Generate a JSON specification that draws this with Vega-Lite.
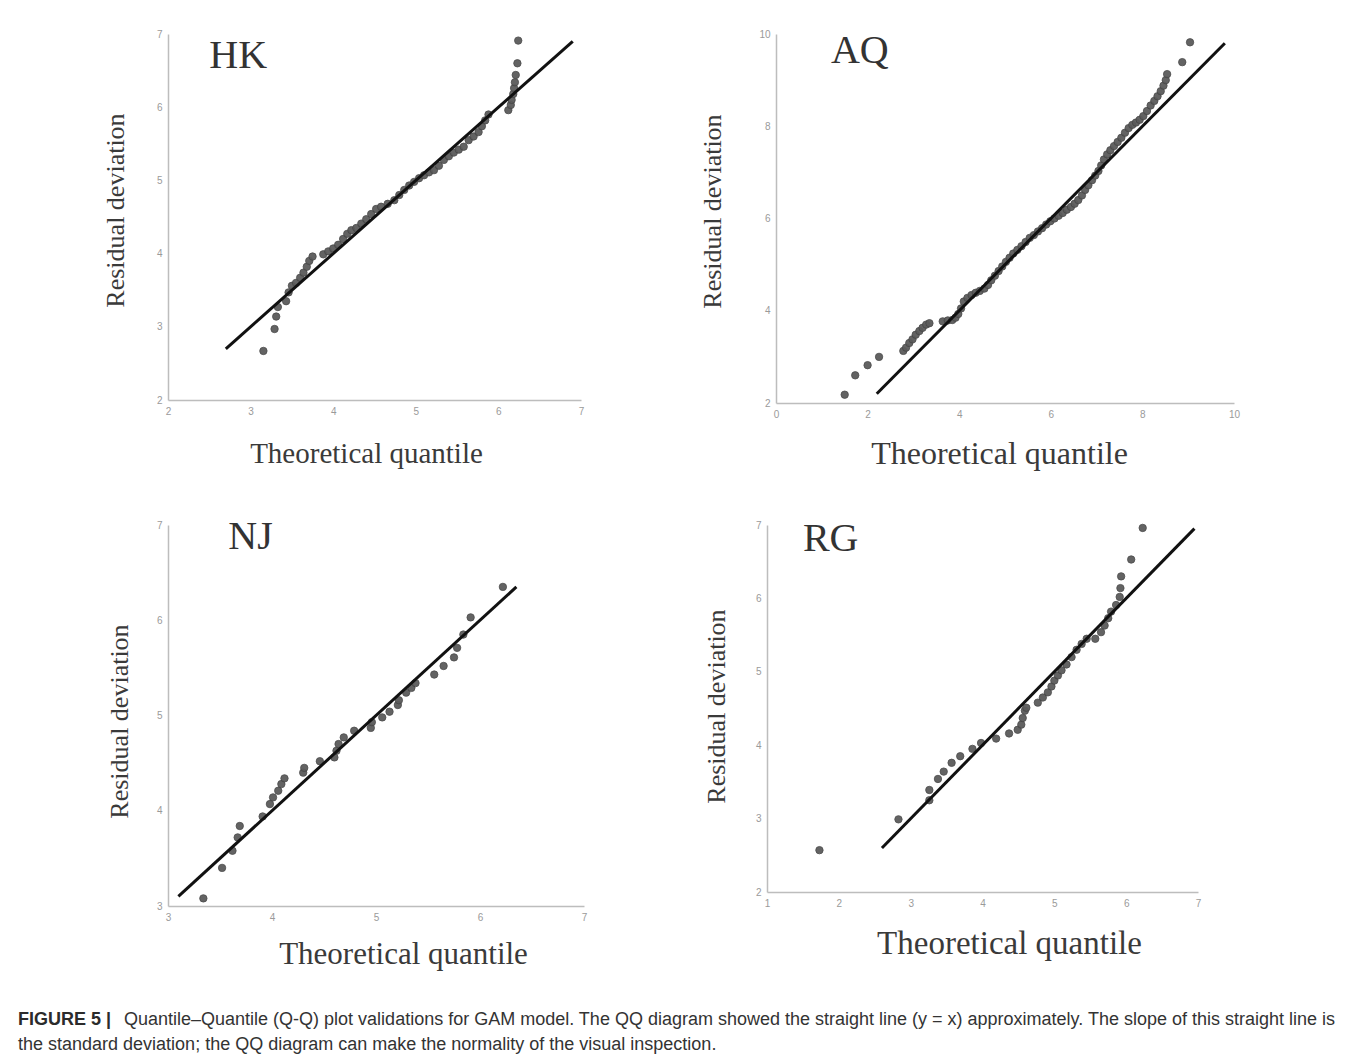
{
  "$schema": "https://vega.github.io/schema/vega-lite/v6.json",
  "background": "white",
  "padding": {"left": 18, "top": 29, "right": 8, "bottom": 8},
  "config": {
    "view": {"stroke": null},
    "axis": {
      "domainColor": "#bdbdbd",
      "domainWidth": 1.5,
      "ticks": false,
      "tickSize": 0,
      "grid": false,
      "labelColor": "#9a9a9a",
      "labelFont": "Liberation Sans",
      "labelFontSize": 10,
      "labelPadding": 6,
      "labelOverlap": false,
      "labelFlush": false,
      "format": "d",
      "titleFont": "Liberation Serif",
      "titleFontWeight": "normal",
      "titleColor": "#3a3a3a"
    },
    "axisY": {"titleFontSize": 26}
  },
  "datasets": {
    "hk": [
      {"x":3.155,"y":2.67},{"x":3.29,"y":2.97},{"x":3.31,"y":3.14},{"x":3.33,"y":3.27},{"x":3.43,"y":3.35},
      {"x":3.46,"y":3.47},{"x":3.5,"y":3.56},{"x":3.55,"y":3.6},{"x":3.6,"y":3.67},{"x":3.64,"y":3.74},
      {"x":3.68,"y":3.82},{"x":3.71,"y":3.9},{"x":3.75,"y":3.96},{"x":3.88,"y":3.99},{"x":3.94,"y":4.03},
      {"x":4.0,"y":4.07},{"x":4.06,"y":4.12},{"x":4.12,"y":4.2},{"x":4.17,"y":4.27},{"x":4.22,"y":4.32},
      {"x":4.28,"y":4.35},{"x":4.34,"y":4.41},{"x":4.4,"y":4.47},{"x":4.46,"y":4.54},{"x":4.52,"y":4.61},
      {"x":4.58,"y":4.64},{"x":4.66,"y":4.68},{"x":4.74,"y":4.73},{"x":4.8,"y":4.8},{"x":4.86,"y":4.87},
      {"x":4.92,"y":4.93},{"x":4.98,"y":4.98},{"x":5.04,"y":5.03},{"x":5.1,"y":5.07},{"x":5.16,"y":5.11},
      {"x":5.22,"y":5.14},{"x":5.28,"y":5.2},{"x":5.34,"y":5.28},{"x":5.4,"y":5.33},{"x":5.46,"y":5.38},
      {"x":5.52,"y":5.42},{"x":5.58,"y":5.46},{"x":5.64,"y":5.55},{"x":5.7,"y":5.6},{"x":5.76,"y":5.66},
      {"x":5.8,"y":5.74},{"x":5.84,"y":5.82},{"x":5.88,"y":5.9},{"x":6.12,"y":5.96},{"x":6.15,"y":6.03},
      {"x":6.16,"y":6.1},{"x":6.18,"y":6.18},{"x":6.19,"y":6.26},{"x":6.2,"y":6.34},{"x":6.21,"y":6.44},
      {"x":6.23,"y":6.6},{"x":6.24,"y":6.91}
    ],
    "aq": [
      {"x":1.5,"y":2.18},{"x":1.73,"y":2.6},{"x":2.0,"y":2.82},{"x":2.25,"y":3.0},{"x":2.78,"y":3.13},
      {"x":2.84,"y":3.2},{"x":2.91,"y":3.3},{"x":2.98,"y":3.38},{"x":3.05,"y":3.48},{"x":3.13,"y":3.56},
      {"x":3.2,"y":3.63},{"x":3.28,"y":3.7},{"x":3.35,"y":3.73},{"x":3.64,"y":3.77},{"x":3.75,"y":3.79},
      {"x":3.85,"y":3.8},{"x":3.92,"y":3.85},{"x":3.98,"y":3.93},{"x":4.04,"y":4.05},{"x":4.1,"y":4.2},
      {"x":4.18,"y":4.28},{"x":4.27,"y":4.34},{"x":4.36,"y":4.39},{"x":4.45,"y":4.43},{"x":4.55,"y":4.48},
      {"x":4.63,"y":4.56},{"x":4.7,"y":4.66},{"x":4.78,"y":4.76},{"x":4.86,"y":4.86},{"x":4.94,"y":4.96},
      {"x":5.02,"y":5.06},{"x":5.1,"y":5.15},{"x":5.18,"y":5.24},{"x":5.27,"y":5.32},{"x":5.36,"y":5.4},
      {"x":5.45,"y":5.49},{"x":5.54,"y":5.58},{"x":5.63,"y":5.64},{"x":5.72,"y":5.72},{"x":5.81,"y":5.79},
      {"x":5.9,"y":5.87},{"x":5.99,"y":5.94},{"x":6.08,"y":6.0},{"x":6.17,"y":6.06},{"x":6.26,"y":6.12},
      {"x":6.35,"y":6.19},{"x":6.44,"y":6.25},{"x":6.52,"y":6.32},{"x":6.6,"y":6.4},{"x":6.68,"y":6.5},
      {"x":6.75,"y":6.62},{"x":6.82,"y":6.72},{"x":6.9,"y":6.83},{"x":6.97,"y":6.93},{"x":7.04,"y":7.03},
      {"x":7.1,"y":7.15},{"x":7.16,"y":7.28},{"x":7.23,"y":7.39},{"x":7.3,"y":7.48},{"x":7.38,"y":7.57},
      {"x":7.46,"y":7.66},{"x":7.54,"y":7.75},{"x":7.62,"y":7.86},{"x":7.7,"y":7.96},{"x":7.78,"y":8.03},
      {"x":7.86,"y":8.08},{"x":7.94,"y":8.14},{"x":8.02,"y":8.22},{"x":8.1,"y":8.33},{"x":8.18,"y":8.45},
      {"x":8.26,"y":8.55},{"x":8.33,"y":8.65},{"x":8.4,"y":8.76},{"x":8.46,"y":8.88},{"x":8.51,"y":9.0},
      {"x":8.54,"y":9.13},{"x":8.87,"y":9.39},{"x":9.04,"y":9.82}
    ],
    "nj": [
      {"x":3.34,"y":3.08},{"x":3.52,"y":3.4},{"x":3.62,"y":3.58},{"x":3.67,"y":3.72},{"x":3.69,"y":3.84},
      {"x":3.91,"y":3.94},{"x":3.98,"y":4.07},{"x":4.01,"y":4.14},{"x":4.06,"y":4.21},{"x":4.09,"y":4.28},
      {"x":4.12,"y":4.34},{"x":4.3,"y":4.4},{"x":4.31,"y":4.45},{"x":4.46,"y":4.52},{"x":4.6,"y":4.56},
      {"x":4.62,"y":4.63},{"x":4.64,"y":4.7},{"x":4.69,"y":4.77},{"x":4.79,"y":4.84},{"x":4.95,"y":4.87},
      {"x":4.96,"y":4.93},{"x":5.06,"y":4.98},{"x":5.13,"y":5.04},{"x":5.21,"y":5.11},{"x":5.22,"y":5.16},
      {"x":5.29,"y":5.24},{"x":5.34,"y":5.29},{"x":5.38,"y":5.34},{"x":5.56,"y":5.43},{"x":5.65,"y":5.52},
      {"x":5.75,"y":5.61},{"x":5.78,"y":5.71},{"x":5.84,"y":5.85},{"x":5.91,"y":6.03},{"x":6.22,"y":6.35}
    ],
    "rg": [
      {"x":1.73,"y":2.57},{"x":2.83,"y":2.99},{"x":3.26,"y":3.25},{"x":3.26,"y":3.39},{"x":3.38,"y":3.54},
      {"x":3.46,"y":3.64},{"x":3.57,"y":3.76},{"x":3.69,"y":3.85},{"x":3.86,"y":3.95},{"x":3.98,"y":4.03},
      {"x":4.19,"y":4.09},{"x":4.37,"y":4.16},{"x":4.49,"y":4.21},{"x":4.54,"y":4.28},{"x":4.56,"y":4.37},
      {"x":4.59,"y":4.47},{"x":4.61,"y":4.51},{"x":4.77,"y":4.58},{"x":4.84,"y":4.65},{"x":4.91,"y":4.72},
      {"x":4.96,"y":4.8},{"x":5.0,"y":4.88},{"x":5.05,"y":4.95},{"x":5.1,"y":5.02},{"x":5.17,"y":5.1},
      {"x":5.24,"y":5.2},{"x":5.31,"y":5.3},{"x":5.38,"y":5.38},{"x":5.45,"y":5.45},{"x":5.57,"y":5.45},
      {"x":5.65,"y":5.54},{"x":5.7,"y":5.63},{"x":5.75,"y":5.73},{"x":5.79,"y":5.82},{"x":5.86,"y":5.91},
      {"x":5.91,"y":6.02},{"x":5.92,"y":6.14},{"x":5.93,"y":6.3},{"x":6.07,"y":6.53},{"x":6.23,"y":6.96}
    ],
    "caption": [
      {"part":"label","line":1,"text":"FIGURE 5 |"},
      {"part":"body","line":1,"text":"Quantile–Quantile (Q-Q) plot validations for GAM model. The QQ diagram showed the straight line (y = x) approximately. The slope of this straight line is"},
      {"part":"body","line":2,"text":"the standard deviation; the QQ diagram can make the normality of the visual inspection."}
    ]
  },
  "vconcat": [
    {
      "vconcat": [
        {
          "hconcat": [
            {
              "width": 413, "height": 366,
              "layer": [
                {
                  "data": {"name": "hk"},
                  "mark": {"type": "circle", "fill": "#5b5b5b", "stroke": "#444444", "strokeWidth": 0.8, "size": 55, "opacity": 0.95},
                  "encoding": {
                    "x": {"field": "x", "type": "quantitative", "scale": {"domain": [2, 7], "nice": false, "zero": false},
                          "axis": {"title": "Theoretical quantile", "values": [2,3,4,5,6,7], "titleFontSize": 29, "titlePadding": 23, "titleX": 198}},
                    "y": {"field": "y", "type": "quantitative", "scale": {"domain": [2, 7], "nice": false, "zero": false},
                          "axis": {"title": "Residual deviation", "values": [2,3,4,5,6,7], "titlePadding": 28, "titleY": 176}}
                  }
                },
                {
                  "data": {"values": [{"x": 2.7, "y": 2.7}, {"x": 6.9, "y": 6.9}]},
                  "mark": {"type": "line", "color": "#111111", "strokeWidth": 3},
                  "encoding": {"x": {"field": "x", "type": "quantitative"}, "y": {"field": "y", "type": "quantitative"}}
                },
                {
                  "data": {"values": [{"label": "HK", "x": 2.5, "y": 6.54}]},
                  "mark": {"type": "text", "font": "Liberation Serif", "fontSize": 40, "align": "left", "baseline": "alphabetic", "color": "#333333"},
                  "encoding": {"x": {"field": "x", "type": "quantitative"}, "y": {"field": "y", "type": "quantitative"}, "text": {"field": "label"}}
                }
              ]
            },
            {
              "width": 458, "height": 369,
              "layer": [
                {
                  "data": {"name": "aq"},
                  "mark": {"type": "circle", "fill": "#5b5b5b", "stroke": "#444444", "strokeWidth": 0.8, "size": 55, "opacity": 0.95},
                  "encoding": {
                    "x": {"field": "x", "type": "quantitative", "scale": {"domain": [0, 10], "nice": false, "zero": false},
                          "axis": {"title": "Theoretical quantile", "values": [0,2,4,6,8,10], "titleFontSize": 32, "titlePadding": 19, "titleX": 223}},
                    "y": {"field": "y", "type": "quantitative", "scale": {"domain": [2, 10], "nice": false, "zero": false},
                          "axis": {"title": "Residual deviation", "values": [2,4,6,8,10], "titlePadding": 33, "titleY": 177}}
                  }
                },
                {
                  "data": {"values": [{"x": 2.2, "y": 2.2}, {"x": 9.8, "y": 9.8}]},
                  "mark": {"type": "line", "color": "#111111", "strokeWidth": 3},
                  "encoding": {"x": {"field": "x", "type": "quantitative"}, "y": {"field": "y", "type": "quantitative"}}
                },
                {
                  "data": {"values": [{"label": "AQ", "x": 1.2, "y": 9.37}]},
                  "mark": {"type": "text", "font": "Liberation Serif", "fontSize": 40, "align": "left", "baseline": "alphabetic", "color": "#333333"},
                  "encoding": {"x": {"field": "x", "type": "quantitative"}, "y": {"field": "y", "type": "quantitative"}, "text": {"field": "label"}}
                }
              ]
            }
          ],
          "spacing": 115
        },
        {
          "hconcat": [
            {
              "width": 416, "height": 381,
              "layer": [
                {
                  "data": {"name": "nj"},
                  "mark": {"type": "circle", "fill": "#5b5b5b", "stroke": "#444444", "strokeWidth": 0.8, "size": 55, "opacity": 0.95},
                  "encoding": {
                    "x": {"field": "x", "type": "quantitative", "scale": {"domain": [3, 7], "nice": false, "zero": false},
                          "axis": {"title": "Theoretical quantile", "values": [3,4,5,6,7], "titleFontSize": 31, "titlePadding": 17, "titleX": 235}},
                    "y": {"field": "y", "type": "quantitative", "scale": {"domain": [3, 7], "nice": false, "zero": false},
                          "axis": {"title": "Residual deviation", "values": [3,4,5,6,7], "titlePadding": 24, "titleY": 196}}
                  }
                },
                {
                  "data": {"values": [{"x": 3.1, "y": 3.1}, {"x": 6.35, "y": 6.35}]},
                  "mark": {"type": "line", "color": "#111111", "strokeWidth": 3},
                  "encoding": {"x": {"field": "x", "type": "quantitative"}, "y": {"field": "y", "type": "quantitative"}}
                },
                {
                  "data": {"values": [{"label": "NJ", "x": 3.58, "y": 6.75}]},
                  "mark": {"type": "text", "font": "Liberation Serif", "fontSize": 40, "align": "left", "baseline": "alphabetic", "color": "#333333"},
                  "encoding": {"x": {"field": "x", "type": "quantitative"}, "y": {"field": "y", "type": "quantitative"}, "text": {"field": "label"}}
                }
              ]
            },
            {
              "width": 431, "height": 367,
              "layer": [
                {
                  "data": {"name": "rg"},
                  "mark": {"type": "circle", "fill": "#5b5b5b", "stroke": "#444444", "strokeWidth": 0.8, "size": 55, "opacity": 0.95},
                  "encoding": {
                    "x": {"field": "x", "type": "quantitative", "scale": {"domain": [1, 7], "nice": false, "zero": false},
                          "axis": {"title": "Theoretical quantile", "values": [1,2,3,4,5,6,7], "titleFontSize": 33, "titlePadding": 19, "titleX": 242}},
                    "y": {"field": "y", "type": "quantitative", "scale": {"domain": [2, 7], "nice": false, "zero": false},
                          "axis": {"title": "Residual deviation", "values": [2,3,4,5,6,7], "titlePadding": 26, "titleY": 181}}
                  }
                },
                {
                  "data": {"values": [{"x": 2.6, "y": 2.6}, {"x": 6.95, "y": 6.95}]},
                  "mark": {"type": "line", "color": "#111111", "strokeWidth": 3},
                  "encoding": {"x": {"field": "x", "type": "quantitative"}, "y": {"field": "y", "type": "quantitative"}}
                },
                {
                  "data": {"values": [{"label": "RG", "x": 1.5, "y": 6.64}]},
                  "mark": {"type": "text", "font": "Liberation Serif", "fontSize": 40, "align": "left", "baseline": "alphabetic", "color": "#333333"},
                  "encoding": {"x": {"field": "x", "type": "quantitative"}, "y": {"field": "y", "type": "quantitative"}, "text": {"field": "label"}}
                }
              ]
            }
          ],
          "spacing": 116
        }
      ],
      "spacing": 47
    },
    {
      "width": 1150, "height": 25,
      "data": {"name": "caption"},
      "encoding": {
        "y": {"field": "line", "type": "ordinal", "axis": null, "scale": {"type": "point", "padding": 0}}
      },
      "layer": [
        {
          "transform": [{"filter": "datum.part === 'label'"}],
          "mark": {"type": "text", "font": "Liberation Sans", "fontSize": 18, "fontWeight": "bold", "align": "left", "baseline": "alphabetic", "color": "#2b2b2b", "x": -150},
          "encoding": {"text": {"field": "text"}}
        },
        {
          "transform": [{"filter": "datum.part === 'body' && datum.line === 1"}],
          "mark": {"type": "text", "font": "Liberation Sans", "fontSize": 18, "align": "left", "baseline": "alphabetic", "color": "#333333", "x": -150, "dx": 106},
          "encoding": {"text": {"field": "text"}}
        },
        {
          "transform": [{"filter": "datum.part === 'body' && datum.line === 2"}],
          "mark": {"type": "text", "font": "Liberation Sans", "fontSize": 18, "align": "left", "baseline": "alphabetic", "color": "#333333", "x": -150},
          "encoding": {"text": {"field": "text"}}
        }
      ]
    }
  ],
  "spacing": 42
}
